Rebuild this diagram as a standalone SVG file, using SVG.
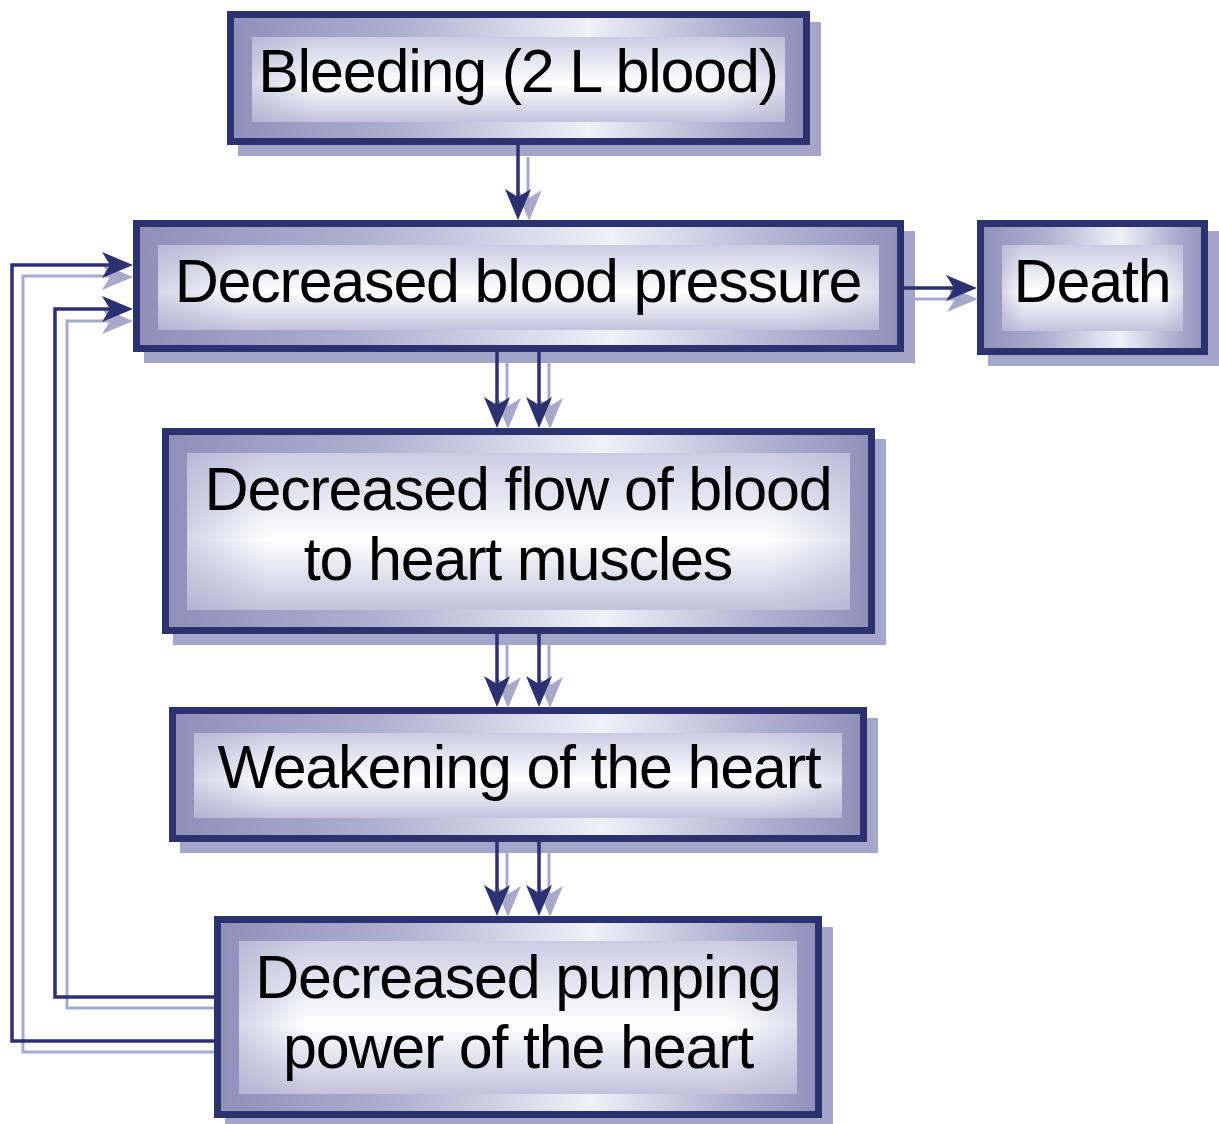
<svg xmlns="http://www.w3.org/2000/svg" xmlns:xlink="http://www.w3.org/1999/xlink" width="1219" height="1124" viewBox="0 0 1219 1124">
<defs>
  <linearGradient id="band" x1="0" y1="0" x2="1" y2="0">
    <stop offset="0" stop-color="#8d8fb9"/>
    <stop offset="0.3" stop-color="#aeb0d0"/>
    <stop offset="0.62" stop-color="#f0f0f8"/>
    <stop offset="0.85" stop-color="#aeb0d0"/>
    <stop offset="1" stop-color="#8d8fb9"/>
  </linearGradient>
  <linearGradient id="inner" x1="0" y1="0" x2="0" y2="1">
    <stop offset="0" stop-color="#cbcce3"/>
    <stop offset="0.55" stop-color="#ffffff"/>
    <stop offset="1" stop-color="#c2c3dc"/>
  </linearGradient>
  <linearGradient id="innerH" x1="0" y1="0" x2="1" y2="0">
    <stop offset="0" stop-color="#9fa1c6" stop-opacity="0.45"/>
    <stop offset="0.12" stop-color="#9fa1c6" stop-opacity="0"/>
    <stop offset="0.88" stop-color="#9fa1c6" stop-opacity="0"/>
    <stop offset="1" stop-color="#9fa1c6" stop-opacity="0.35"/>
  </linearGradient>
  <path id="hd" d="M0 0 L-13 -31 L0 -23 L13 -31 Z"/>
  <path id="hr" d="M0 0 L-31 -13 L-23 0 L-31 13 Z"/>
</defs>
<style>
  .shadow { fill: #a4a6c9; }
  .band { fill: url(#band); }
  .inner { fill: url(#inner); }
  .innerH { fill: url(#innerH); }
  .border { fill: none; stroke: #2c3170; stroke-width: 7; }
  .label { font-family: "Liberation Sans", Arial, sans-serif; font-size: 61px; letter-spacing: -1.2px; fill: #000; text-anchor: middle; }
  .ln { fill: none; stroke: #2c3170; stroke-width: 3.5; }
  .lns { fill: none; stroke: #a7a9cb; stroke-width: 3; }
  .hdk { fill: #2c3170; }
  .hsh { fill: #a7a9cb; }
</style>
<rect width="1219" height="1124" fill="#ffffff"/>

<g id="node-bleeding">
  <rect class="shadow" x="238" y="22" width="583" height="134"/>
  <rect class="band" x="227" y="11" width="583" height="134"/>
  <rect class="inner" x="252" y="37" width="533" height="85"/>
  <rect class="innerH" x="252" y="37" width="533" height="85"/>
  <rect class="border" x="230.5" y="14.5" width="576" height="127"/>
  <text class="label" x="518" y="92">Bleeding (2 L blood)</text>
</g>

<g id="node-bp">
  <rect class="shadow" x="144" y="231" width="771" height="132"/>
  <rect class="band" x="133" y="220" width="771" height="132"/>
  <rect class="inner" x="158" y="245" width="721" height="85"/>
  <rect class="innerH" x="158" y="245" width="721" height="85"/>
  <rect class="border" x="136.5" y="223.5" width="764" height="125"/>
  <text class="label" x="518" y="302">Decreased blood pressure</text>
</g>

<g id="node-death">
  <rect class="shadow" x="988" y="231" width="231" height="135"/>
  <rect class="band" x="977" y="220" width="231" height="135"/>
  <rect class="inner" x="1002" y="245" width="181" height="86"/>
  <rect class="innerH" x="1002" y="245" width="181" height="86"/>
  <rect class="border" x="980.5" y="223.5" width="224" height="128"/>
  <text class="label" x="1092" y="302">Death</text>
</g>

<g id="node-flow">
  <rect class="shadow" x="173" y="439" width="713" height="206"/>
  <rect class="band" x="162" y="428" width="713" height="206"/>
  <rect class="inner" x="187" y="453" width="663" height="157"/>
  <rect class="innerH" x="187" y="453" width="663" height="157"/>
  <rect class="border" x="165.5" y="431.5" width="706" height="199"/>
  <text class="label" x="518" y="510">Decreased flow of blood</text>
  <text class="label" x="518" y="580">to heart muscles</text>
</g>

<g id="node-weak">
  <rect class="shadow" x="180" y="718" width="698" height="135"/>
  <rect class="band" x="169" y="707" width="698" height="135"/>
  <rect class="inner" x="194" y="733" width="648" height="85"/>
  <rect class="innerH" x="194" y="733" width="648" height="85"/>
  <rect class="border" x="172.5" y="710.5" width="691" height="128"/>
  <text class="label" x="519" y="788">Weakening of the heart</text>
</g>

<g id="node-pump">
  <rect class="shadow" x="225" y="927" width="608" height="202"/>
  <rect class="band" x="214" y="916" width="608" height="202"/>
  <rect class="inner" x="239" y="941" width="558" height="153"/>
  <rect class="innerH" x="239" y="941" width="558" height="153"/>
  <rect class="border" x="217.5" y="919.5" width="601" height="195"/>
  <text class="label" x="518" y="998">Decreased pumping</text>
  <text class="label" x="518" y="1068">power of the heart</text>
</g>

<g id="connectors">
  <!-- Bleeding -> BP -->
  <line class="lns" x1="528" y1="157" x2="528" y2="200"/>
  <use href="#hd" class="hsh" x="529" y="221"/>
  <line class="ln" x1="518" y1="145" x2="518" y2="200"/>
  <use href="#hd" class="hdk" x="518" y="220"/>

  <!-- BP -> Flow (double) -->
  <line class="lns" x1="507" y1="363" x2="507" y2="408"/>
  <use href="#hd" class="hsh" x="508" y="429"/>
  <line class="ln" x1="497" y1="352" x2="497" y2="408"/>
  <use href="#hd" class="hdk" x="497" y="428"/>
  <line class="lns" x1="549" y1="363" x2="549" y2="408"/>
  <use href="#hd" class="hsh" x="550" y="429"/>
  <line class="ln" x1="539" y1="352" x2="539" y2="408"/>
  <use href="#hd" class="hdk" x="539" y="428"/>

  <!-- Flow -> Weak (double) -->
  <line class="lns" x1="507" y1="645" x2="507" y2="687"/>
  <use href="#hd" class="hsh" x="508" y="708"/>
  <line class="ln" x1="497" y1="634" x2="497" y2="687"/>
  <use href="#hd" class="hdk" x="497" y="707"/>
  <line class="lns" x1="549" y1="645" x2="549" y2="687"/>
  <use href="#hd" class="hsh" x="550" y="708"/>
  <line class="ln" x1="539" y1="634" x2="539" y2="687"/>
  <use href="#hd" class="hdk" x="539" y="707"/>

  <!-- Weak -> Pump (double) -->
  <line class="lns" x1="507" y1="853" x2="507" y2="896"/>
  <use href="#hd" class="hsh" x="508" y="917"/>
  <line class="ln" x1="497" y1="842" x2="497" y2="896"/>
  <use href="#hd" class="hdk" x="497" y="916"/>
  <line class="lns" x1="549" y1="853" x2="549" y2="896"/>
  <use href="#hd" class="hsh" x="550" y="917"/>
  <line class="ln" x1="539" y1="842" x2="539" y2="896"/>
  <use href="#hd" class="hdk" x="539" y="916"/>

  <!-- BP -> Death -->
  <line class="lns" x1="915" y1="299" x2="957" y2="299"/>
  <use href="#hr" class="hsh" x="978" y="299"/>
  <line class="ln" x1="904" y1="288" x2="957" y2="288"/>
  <use href="#hr" class="hdk" x="977" y="288"/>

  <!-- Feedback outer -->
  <polyline class="lns" points="214,1052 23,1052 23,276 112,276"/>
  <use href="#hr" class="hsh" x="133" y="277"/>
  <polyline class="ln" points="214,1041 12,1041 12,265 112,265"/>
  <use href="#hr" class="hdk" x="133" y="265"/>

  <!-- Feedback inner -->
  <polyline class="lns" points="214,1008 67,1008 67,321 112,321"/>
  <use href="#hr" class="hsh" x="133" y="321"/>
  <polyline class="ln" points="214,997 55,997 55,309 112,309"/>
  <use href="#hr" class="hdk" x="133" y="309"/>
</g>
</svg>
